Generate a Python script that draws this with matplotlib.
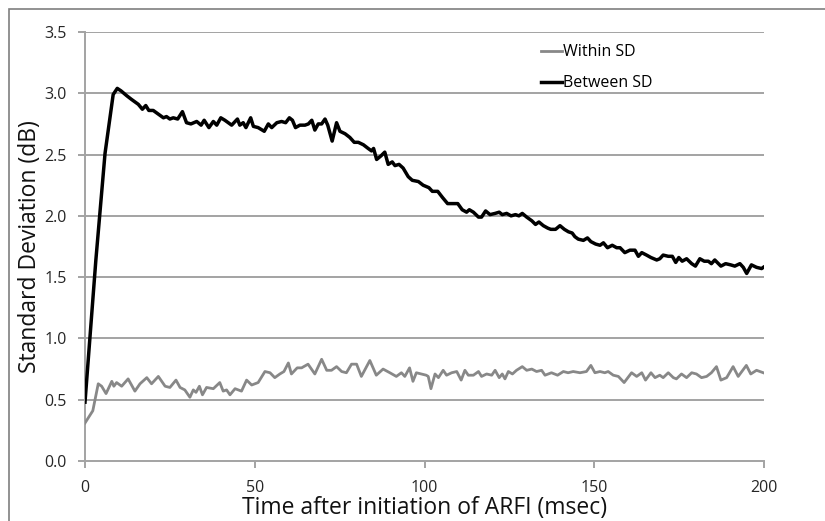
import matplotlib
matplotlib.use("Agg")
import matplotlib.pyplot as plt
from matplotlib.patches import Rectangle

# ---- data ----
within_t = [0, 2.3, 3.9, 4.9, 6.2, 7.9, 8.5, 9.3, 10.8, 12.7, 14.7, 16.2, 18.2, 19.6, 21.6, 23.6,
            25, 26.8, 28, 29.4, 30.9, 31.9, 32.7, 33.7, 34.6, 35.8, 37.8, 39.7, 40.7, 41.7, 42.7,
            44.2, 46.1, 47.6, 49.1, 51, 53, 54.5, 55.9, 57.4, 58.6, 59.9, 60.8, 62.5, 63.8, 65.7,
            67.7, 69.7, 71.2, 72.6, 74.1, 75.6, 77, 78.5, 80, 81.4, 83.9, 85.8, 87.8, 89.8, 91.7,
            93.2, 94.2, 95.6, 96.6, 97.6, 99.1, 100.5, 101.1, 101.9, 103.1, 104.1, 105.5, 106.5,
            108, 109.5, 110.8, 111.9, 112.9, 114.4, 115.9, 116.8, 118.3, 119.8, 120.8, 122, 122.9,
            123.7, 124.7, 125.9, 127.1, 128.8, 130.1, 131.6, 133, 134.5, 135.5, 137.4, 139.2,
            140.9, 142.3, 143.8, 145.8, 147.7, 149, 150.2, 151.7, 153.1, 154.1, 155.6, 157.1,
            158.8, 161, 162.5, 164, 165.1, 166.7, 167.9, 169.3, 170.3, 171.8, 173.3, 174.2, 175.7,
            177.2, 178.7, 180.1, 181.6, 183.1, 184.5, 186, 187.3, 189, 190.9, 192.4, 194.8, 196.1,
            197.8, 199.8]
within_sd = [0.31, 0.41, 0.63, 0.61, 0.55, 0.65, 0.61, 0.64, 0.61, 0.67, 0.57, 0.63, 0.68, 0.63,
             0.69, 0.61, 0.60, 0.66, 0.60, 0.58, 0.52, 0.58, 0.56, 0.61, 0.54, 0.60, 0.59, 0.64,
             0.57, 0.58, 0.54, 0.59, 0.57, 0.66, 0.62, 0.64, 0.73, 0.72, 0.68, 0.71, 0.73, 0.80,
             0.71, 0.76, 0.76, 0.79, 0.71, 0.83, 0.74, 0.74, 0.77, 0.73, 0.72, 0.79, 0.79, 0.69,
             0.82, 0.70, 0.75, 0.72, 0.69, 0.72, 0.69, 0.76, 0.65, 0.72, 0.71, 0.70, 0.69, 0.59,
             0.71, 0.68, 0.74, 0.70, 0.72, 0.73, 0.66, 0.74, 0.70, 0.70, 0.73, 0.69, 0.71, 0.70,
             0.74, 0.68, 0.71, 0.67, 0.73, 0.71, 0.74, 0.77, 0.74, 0.75, 0.73, 0.74, 0.70, 0.72,
             0.70, 0.73, 0.72, 0.73, 0.72, 0.73, 0.78, 0.72, 0.73, 0.72, 0.73, 0.70, 0.69, 0.64,
             0.72, 0.69, 0.72, 0.66, 0.72, 0.68, 0.70, 0.68, 0.72, 0.68, 0.67, 0.71, 0.68, 0.72,
             0.71, 0.68, 0.69, 0.72, 0.77, 0.66, 0.68, 0.77, 0.69, 0.78, 0.71, 0.74, 0.72]

between_t = [0, 3.2, 5.9, 8.3, 9.5, 10.6, 12.3, 13.7, 15.7, 16.9, 17.9, 18.8, 20.1, 21.6, 23.1,
             24, 25, 26, 27.3, 28.7, 29.9, 31.2, 32.9, 34.2, 35.1, 36.5, 37.8, 38.8, 40, 41.2,
             43.2, 44.9, 45.6, 46.6, 47.4, 48.8, 49.6, 51, 52.8, 54, 55, 56.5, 57.9, 59.1, 60.2,
             61.1, 62, 63.3, 64.8, 65.8, 66.8, 67.7, 68.7, 69.7, 70.7, 71.5, 72.8, 74.1, 75.1,
             76.6, 78, 79.3, 80.5, 82, 83.4, 84.4, 85, 85.9, 87.2, 88.3, 89.3, 90.5, 91.3, 92.5,
             93.7, 95.2, 96.4, 98.2, 99.6, 101.3, 102.3, 103.9, 105.3, 106.8, 108.2, 109.8, 111.1,
             112.4, 113.2, 114.4, 115.9, 116.8, 118, 119.3, 120.8, 122, 122.9, 124.2, 125.5, 126.8,
             127.8, 128.8, 130.1, 131.6, 132.7, 133.7, 135, 136.3, 137.2, 138.6, 139.9, 141.2,
             142.4, 143.5, 144.3, 145.3, 146.8, 148, 149, 150.4, 151.7, 152.7, 153.9, 155.3,
             156.6, 157.6, 159, 160.5, 162, 163, 164, 165.4, 166.7, 168.4, 169.3, 170.3, 171.8,
             173, 174, 174.9, 175.9, 177.2, 178.7, 179.8, 181.1, 182.4, 183.6, 184.5, 185.5,
             187.3, 188.7, 190.2, 191.4, 192.9, 193.9, 194.9, 196.3, 197.8, 199.3, 199.8]
between_sd = [0.48, 1.64, 2.51, 2.99, 3.04, 3.02, 2.98, 2.95, 2.91, 2.87, 2.90, 2.86, 2.86, 2.83,
              2.80, 2.81, 2.79, 2.80, 2.79, 2.85, 2.76, 2.75, 2.77, 2.74, 2.78, 2.72, 2.77, 2.74,
              2.80, 2.78, 2.74, 2.79, 2.74, 2.76, 2.72, 2.80, 2.73, 2.72, 2.69, 2.75, 2.72, 2.76,
              2.77, 2.76, 2.80, 2.78, 2.72, 2.74, 2.74, 2.75, 2.78, 2.70, 2.75, 2.75, 2.79, 2.74,
              2.61, 2.76, 2.69, 2.67, 2.64, 2.60, 2.60, 2.58, 2.55, 2.53, 2.55, 2.46, 2.49, 2.52,
              2.42, 2.44, 2.41, 2.42, 2.39, 2.32, 2.29, 2.28, 2.25, 2.23, 2.20, 2.20, 2.15, 2.10,
              2.10, 2.10, 2.05, 2.03, 2.05, 2.03, 1.99, 1.99, 2.04, 2.01, 2.02, 2.03, 2.01, 2.02,
              2.00, 2.01, 2.00, 2.02, 1.99, 1.96, 1.93, 1.95, 1.92, 1.90, 1.89, 1.89, 1.92, 1.89,
              1.87, 1.86, 1.83, 1.81, 1.80, 1.82, 1.79, 1.77, 1.76, 1.78, 1.74, 1.76, 1.74, 1.74,
              1.70, 1.72, 1.72, 1.67, 1.70, 1.68, 1.66, 1.64, 1.65, 1.68, 1.67, 1.67, 1.62, 1.66,
              1.63, 1.65, 1.61, 1.59, 1.65, 1.63, 1.63, 1.61, 1.64, 1.59, 1.61, 1.60, 1.59, 1.61,
              1.58, 1.53, 1.60, 1.58, 1.57, 1.58]

x_ticks = [0, 50, 100, 150, 200]
y_ticks = [0.0, 0.5, 1.0, 1.5, 2.0, 2.5, 3.0, 3.5]
series_labels = ["Within SD", "Between SD"]
x_label = "Time after initiation of ARFI (msec)"
y_label = "Standard Deviation (dB)"

plt.rcParams['font.family'] = ['Open Sans', 'DejaVu Sans']

W, H = 825, 521
fig = plt.figure(figsize=(W / 100, H / 100), dpi=100)
ax = fig.add_axes([85 / W, 1 - 461 / H, (764 - 85) / W, (461 - 32) / H])

# outer frame of the figure (left and top visible)
fig.patches.append(Rectangle((9 / W, -0.1), 1.2, (1 - 9 / H) + 0.1, transform=fig.transFigure,
                             fill=False, edgecolor='#7f7f7f', linewidth=1.2))

grid_c = '#a3a3a3'
for yv in y_ticks[1:]:
    ax.axhline(yv, color=grid_c, linewidth=1.4, zorder=1)

ax.plot(within_t, within_sd, color='#888888', linewidth=2.0, label=series_labels[0], zorder=3)
ax.plot(between_t, between_sd, color='#000000', linewidth=2.5, label=series_labels[1], zorder=4)

ax.set_xlim(0, 200)
ax.set_ylim(0, 3.5)
for s in ['top', 'right']:
    ax.spines[s].set_visible(False)
for s in ['left', 'bottom']:
    ax.spines[s].set_color(grid_c)
    ax.spines[s].set_linewidth(1.4)
ax.spines['left'].set_zorder(0)

ax.set_xticks(x_ticks)
ax.set_xticklabels([str(v) for v in x_ticks])
ax.set_yticks(y_ticks)
ax.set_yticklabels([f"{v:.1f}" for v in y_ticks])
ax.tick_params(axis='both', direction='out', length=5, width=1.4, color=grid_c,
               labelsize=11.5, labelcolor='#262626')
ax.tick_params(axis='x', pad=9)
ax.tick_params(axis='y', pad=8)

ax.set_xlabel(x_label, fontsize=16.5, color='#111111', labelpad=0)
ax.set_ylabel(y_label, fontsize=16.5, color='#111111', labelpad=2)

leg = ax.legend(loc='upper left', bbox_to_anchor=(0.66, 0.99), frameon=False, fontsize=11.5,
                handlelength=1.3, handletextpad=0.1, labelspacing=0.95, borderpad=0)

fig.savefig("out.png", dpi=100)
